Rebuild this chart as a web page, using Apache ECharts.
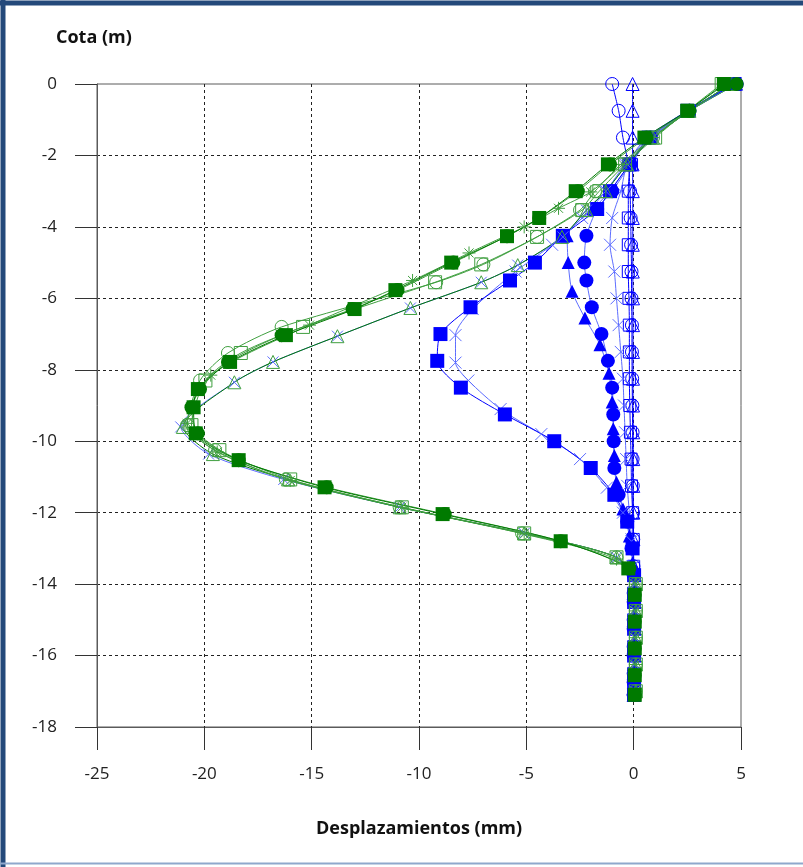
<!DOCTYPE html>
<html>
<head>
<meta charset="utf-8">
<script src="https://cdn.jsdelivr.net/npm/echarts@6/dist/echarts.min.js"></script>
<style>
  html, body { margin: 0; padding: 0; background: #fff; }
  #chart { width: 803px; height: 867px; }
</style>
</head>
<body>
<div id="chart"></div>
<script>
// Axis ticks
const xTicks = [-25, -20, -15, -10, -5, 0, 5];
const yTicks = [0, -2, -4, -6, -8, -10, -12, -14, -16, -18];

// ---- Blue series (depth in m, displacement in mm) ----
const depthB = [0, -0.75, -1.5, -2.25, -3, -3.75, -4.5, -5.25, -6, -6.75, -7.5, -8.25, -9, -9.75, -10.5, -11.25, -12, -12.75, -13.5, -14.25, -15, -15.75, -16.5, -17.1];
const blueOpenCircle = [-1.0, -0.7, -0.5, -0.25, -0.17, -0.14, -0.12, -0.1, -0.1, -0.08, -0.08, -0.07, -0.06, -0.05, -0.05, -0.04, -0.03, -0.02, -0.01, 0, 0, 0, 0, 0];
const blueOpenTriangle = [-0.05, -0.05, -0.05, -0.05, -0.04, -0.04, -0.04, -0.04, -0.03, -0.03, -0.03, -0.03, -0.03, -0.02, -0.02, -0.02, -0.02, -0.01, 0, 0, 0, 0, 0, 0];
const blueOpenSquare = [4.7, 2.6, 0.8, -0.1, -0.25, -0.25, -0.25, -0.25, -0.22, -0.2, -0.2, -0.2, -0.18, -0.15, -0.12, -0.1, -0.05, -0.02, 0, 0, 0, 0, 0, 0];
const blueCross = [4.6, 2.5, 0.6, -0.3, -0.6, -1.0, -1.1, -0.9, -0.8, -0.7, -0.6, -0.5, -0.45, -0.4, -0.35, -0.3, -0.2, -0.1, -0.05, 0, 0, 0, 0, 0];

const depthC = [0, -0.75, -1.5, -2.25, -3, -3.5, -4.25, -5, -5.5, -6.25, -7, -7.75, -8.5, -9.25, -10, -10.75, -11.5, -12.25, -13, -13.75, -14.5, -15.25, -16, -16.75, -17.1];
const blueCircle = [4.8, 2.6, 0.8, -0.15, -1.0, -1.7, -2.2, -2.3, -2.2, -1.95, -1.5, -1.2, -1.0, -0.95, -0.93, -0.9, -0.7, -0.3, -0.1, 0, 0, 0, 0, 0, 0];
const blueSquare = [4.7, 2.5, 0.7, -0.2, -1.1, -1.7, -3.3, -4.6, -5.76, -7.6, -9.0, -9.15, -8.05, -6.0, -3.7, -2.0, -0.9, -0.3, -0.05, 0.02, 0.02, 0.02, 0.02, 0.02, 0.02];

const depthT = [0, -0.75, -1.5, -2.25, -3, -3.5, -4.25, -5, -5.8, -6.55, -7.3, -8.1, -8.9, -9.65, -10.4, -11.15, -11.9, -12.65, -13.4, -14.15, -14.9, -15.65, -16.4, -17.1];
const blueTriangle = [4.8, 2.6, 0.8, -0.2, -1.1, -1.9, -3.1, -3.05, -2.87, -2.27, -1.57, -1.15, -1.0, -0.95, -0.9, -0.8, -0.5, -0.2, -0.05, 0, 0, 0, 0, 0];

const depthX = [0, -0.75, -1.5, -2.25, -3, -3.75, -4.5, -5.25, -6.3, -7.03, -7.8, -8.3, -9.1, -9.8, -10.5, -11.3, -12, -12.8, -13.5, -14.3, -15.1, -15.8, -16.6, -17.1];
const blueCrossDeep = [4.6, 2.5, 0.7, -0.4, -1.3, -2.4, -3.8, -5.5, -7.5, -8.3, -8.3, -7.7, -6.2, -4.3, -2.5, -1.25, -0.5, -0.1, 0, 0, 0, 0, 0, 0];

// ---- Green series ----
const depthG = [0, -0.75, -1.5, -2.25, -3, -3.75, -4.26, -5, -5.77, -6.3, -7.03, -7.78, -8.54, -9.05, -9.78, -10.53, -11.29, -12.04, -12.8, -13.56, -14.3, -15.05, -15.8, -16.55, -17.1];
const greenSquare = [4.2, 2.5, 0.5, -1.2, -2.7, -4.4, -5.9, -8.5, -11.1, -13.0, -16.2, -18.8, -20.3, -20.5, -20.4, -18.4, -14.4, -8.9, -3.4, -0.25, 0.05, 0.05, 0.05, 0.05, 0.05];
const greenCircle = [4.8, 2.6, 0.6, -1.1, -2.6, -4.4, -5.9, -8.4, -11.0, -13.1, -16.4, -18.9, -20.2, -20.6, -20.3, -18.4, -14.3, -8.8, -3.4, -0.2, 0.05, 0.05, 0.05, 0.05, 0.05];

const depthH = [0, -0.75, -1.5, -2.25, -3, -3.53, -4.28, -5.05, -5.55, -6.8, -7.53, -8.3, -9.55, -10.25, -11.07, -11.85, -12.58, -13.25, -14, -14.75, -15.5, -16.25, -17];
const greenOpenSquare = [4.1, 2.5, 1.0, -0.4, -1.6, -2.4, -4.5, -7.1, -9.25, -15.4, -18.3, -19.95, -20.6, -19.3, -16.0, -10.8, -5.1, -0.8, 0.1, 0.1, 0.1, 0.1, 0.1];
const greenOpenCircle = [4.5, 2.6, 0.9, -0.6, -1.8, -2.5, -4.5, -7.0, -9.2, -16.4, -18.9, -20.2, -20.8, -19.5, -16.2, -10.9, -5.2, -0.8, 0.1, 0.1, 0.1, 0.1, 0.1];

const depthS = [0, -0.75, -1.5, -2.25, -3.02, -3.48, -4.0, -4.73, -5.5, -6.75, -8.15, -9.5, -10.3, -11.1, -11.85, -12.6, -13.3, -14, -14.75, -15.5, -16.25, -17];
const greenStar = [4.3, 2.5, 0.9, -0.5, -2.0, -3.5, -5.1, -7.67, -10.3, -15.1, -19.7, -20.8, -19.4, -16.0, -10.8, -5.1, -0.8, 0.1, 0.1, 0.1, 0.1, 0.1];

const depthK = [0, -0.75, -1.5, -2.25, -3, -3.53, -4.28, -5.07, -5.55, -6.27, -7.06, -7.78, -8.35, -9.6, -10.36, -11.07, -11.85, -12.58, -13.25, -14, -14.75, -15.5, -16.25, -17];
const greenOpenTriangle = [4.5, 2.6, 0.9, -0.3, -1.3, -2.2, -3.34, -5.4, -7.1, -10.4, -13.8, -16.8, -18.6, -21.0, -19.6, -16.1, -10.9, -5.1, -0.8, 0.1, 0.1, 0.1, 0.1, 0.1];
const blueCrossOuter = [4.5, 2.6, 0.9, -0.3, -1.3, -2.2, -3.3, -5.4, -7.1, -10.4, -13.8, -16.8, -18.6, -21.1, -19.8, -16.3, -10.9, -5.1, -0.8, 0.05, 0.05, 0.05, 0.05, 0.05];

const BLUE = '#0000ff';
const BLUE_LINE = '#5c6cff';
const GREEN = '#007a00';
const GREEN_LINE = '#3f9f3f';
const CROSS = 'path://M0,0L10,10M10,0L0,10';
const STAR = 'path://M5,0L5,10M0,5L10,5M1.5,1.5L8.5,8.5M8.5,1.5L1.5,8.5';

function pairs(xs, ys) { return xs.map((x, i) => [x, ys[i]]); }

function mk(name, xs, ys, symbol, size, color, lineColor, filled) {
  return {
    name, type: 'line', data: pairs(xs, ys),
    symbol, symbolSize: size, smooth: 0.25,
    lineStyle: { color: lineColor, width: 1 },
    itemStyle: filled
      ? { color: color, borderColor: color, borderWidth: 0 }
      : { color: 'rgba(0,0,0,0)', borderColor: color, borderWidth: 1 },
    emphasis: { disabled: true },
    silent: true
  };
}

const series = [
  mk('b1', blueOpenCircle, depthB, 'circle', 13, BLUE, BLUE, false),
  mk('b2', blueOpenTriangle, depthB, 'triangle', 13, BLUE, BLUE, false),
  mk('b3', blueOpenSquare, depthB, 'rect', 12, BLUE, BLUE, false),
  mk('b4', blueCross, depthB, CROSS, 12, BLUE_LINE, BLUE_LINE, false),
  mk('b5', blueCircle, depthC, 'circle', 14, BLUE, BLUE_LINE, true),
  mk('b6', blueTriangle, depthT, 'triangle', 13, BLUE, BLUE_LINE, true),
  mk('b7', blueCrossDeep, depthX, CROSS, 12, BLUE_LINE, BLUE_LINE, false),
  mk('b8', blueSquare, depthC, 'rect', 14, BLUE, BLUE, true),
  mk('b9', blueCrossOuter, depthK, CROSS, 11, BLUE_LINE, BLUE_LINE, false),
  mk('g1', greenOpenTriangle, depthK, 'triangle', 13, GREEN_LINE, GREEN, false),
  mk('g2', greenStar, depthS, STAR, 13, GREEN_LINE, GREEN_LINE, false),
  mk('g3', greenOpenCircle, depthH, 'circle', 13, GREEN_LINE, GREEN_LINE, false),
  mk('g4', greenOpenSquare, depthH, 'rect', 13, GREEN_LINE, GREEN_LINE, false),
  mk('g5', greenCircle, depthG, 'circle', 14, GREEN, GREEN_LINE, true),
  mk('g6', greenSquare, depthG, 'rect', 14, GREEN, GREEN, true)
];

const FONT = 'Open Sans';

const chart = echarts.init(document.getElementById('chart'), null, { renderer: 'canvas' });
chart.setOption({
  animation: false,
  backgroundColor: '#ffffff',
  grid: {
    left: 97, top: 84, right: 62, bottom: 140,
    show: true, borderColor: '#5a5a5a', borderWidth: 1, backgroundColor: 'transparent'
  },
  xAxis: {
    type: 'value', min: xTicks[0], max: xTicks[xTicks.length - 1], interval: 5,
    position: 'bottom',
    axisLine: { show: true, onZero: false, lineStyle: { color: '#5a5a5a', width: 1 } },
    axisTick: { show: true, inside: false, length: 23, lineStyle: { color: '#333' } },
    splitLine: { show: true, showMinLine: false, showMaxLine: false, lineStyle: { color: '#222', type: [3, 3], width: 1 } },
    axisLabel: { margin: 39, fontSize: 17, color: '#222', fontFamily: FONT }
  },
  yAxis: {
    type: 'value', min: yTicks[yTicks.length - 1], max: yTicks[0], interval: 2,
    axisLine: { show: true, onZero: false, lineStyle: { color: '#5a5a5a', width: 1 } },
    axisTick: { show: true, inside: false, length: 22, lineStyle: { color: '#333' } },
    splitLine: { show: true, showMinLine: false, showMaxLine: false, lineStyle: { color: '#222', type: [3, 3], width: 1 } },
    axisLabel: { margin: 40, fontSize: 17, color: '#222', fontFamily: FONT }
  },
  graphic: [
    { type: 'line', shape: { x1: 0, y1: 3, x2: 803, y2: 3 }, style: { stroke: '#24497a', lineWidth: 5 }, z: 100 },
    { type: 'line', shape: { x1: 3, y1: 0, x2: 3, y2: 867 }, style: { stroke: '#24497a', lineWidth: 5 }, z: 100 },
    { type: 'line', shape: { x1: 0, y1: 863.5, x2: 803, y2: 863.5 }, style: { stroke: '#8fa8cc', lineWidth: 2 }, z: 100 },
    { type: 'text', left: 56, top: 29, style: { text: 'Cota (m)', font: 'bold 18px "Open Sans"', fill: '#111' } },
    { type: 'text', left: 316, top: 820, style: { text: 'Desplazamientos (mm)', font: 'bold 18px "Open Sans"', fill: '#111' } }
  ],
  series: series
});
</script>
</body>
</html>
